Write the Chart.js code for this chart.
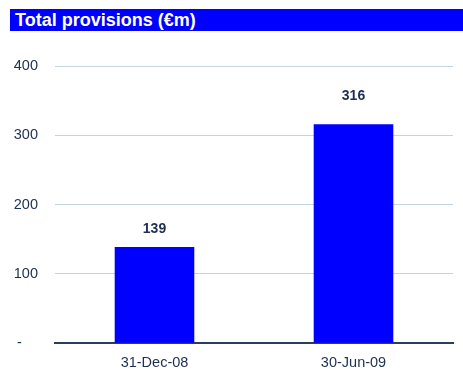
<!DOCTYPE html>
<html>
<head>
<meta charset="utf-8">
<script src="https://cdn.jsdelivr.net/npm/chart.js@4"></script>
<style>
  body { margin: 0; background: #fff; }
  #wrap { position: relative; width: 463px; height: 369px; }
  #title {
    position: absolute; left: 10px; top: 9px; right: 0; height: 22px;
    background: #0000ff; color: #fff;
    font: bold 18px "Liberation Sans", Arial, sans-serif;
    line-height: 22px; padding-left: 5px; box-sizing: border-box;
  }
  canvas { position: absolute; left: 0; top: 0; }
</style>
</head>
<body>
<div id="wrap">
  <div id="title">Total provisions (€m)</div>
  <canvas id="chart" width="463" height="369"></canvas>
</div>
<script>
const categories = ["31-Dec-08", "30-Jun-09"];
const provisions = [139, 316];
const yTicks = [0, 100, 200, 300, 400];

const NAVY = "#1f2f4f";
const FONT = "'Liberation Sans', Arial, sans-serif";
// gap between bar top and its value label, as placed in the original
const labelGap = [18, 28];

// value labels above each bar
const barLabels = {
    id: "barLabels",
    afterDatasetsDraw(chart) {
        const ctx = chart.ctx;
        const meta = chart.getDatasetMeta(0);
        ctx.save();
        ctx.font = "bold 14px " + FONT;
        ctx.fillStyle = NAVY;
        ctx.textAlign = "center";
        ctx.textBaseline = "middle";
        meta.data.forEach((bar, i) => {
            ctx.fillText(String(provisions[i]), bar.x, bar.y - labelGap[i]);
        });
        ctx.restore();
    }
};

new Chart(document.getElementById("chart"), {
    type: "bar",
    data: {
        labels: categories,
        datasets: [{
            data: provisions,
            backgroundColor: "#0000ff",
            barPercentage: 0.4,
            categoryPercentage: 1.0,
        }],
    },
    options: {
        responsive: false,
        animation: false,
        layout: { padding: { top: 66, right: 10, bottom: 0, left: 0 } },
        plugins: {
            legend: { display: false },
            tooltip: { enabled: false },
        },
        scales: {
            x: {
                grid: { display: false, drawTicks: false },
                border: { display: true, color: "#2b3f5c", width: 2 },
                ticks: {
                    color: NAVY,
                    padding: 11,
                    font: { family: FONT, size: 14.5 },
                },
                afterFit(scale) { scale.height = 25; },
            },
            y: {
                min: 0,
                max: 400,
                afterBuildTicks(scale) {
                    scale.ticks = yTicks.map(v => ({ value: v }));
                },
                grid: {
                    drawTicks: false,
                    color: ctx => ctx.tick && ctx.tick.value === 0 ? "rgba(0,0,0,0)" : "#c5d5df",
                },
                border: { display: false },
                ticks: {
                    color: NAVY,
                    padding: 17,
                    font: { family: FONT, size: 14.5 },
                    callback: v => v === 0 ? "-    " : v,
                },
                afterFit(scale) { scale.width = 55; },
            },
        },
    },
    plugins: [barLabels],
});
</script>
</body>
</html>
